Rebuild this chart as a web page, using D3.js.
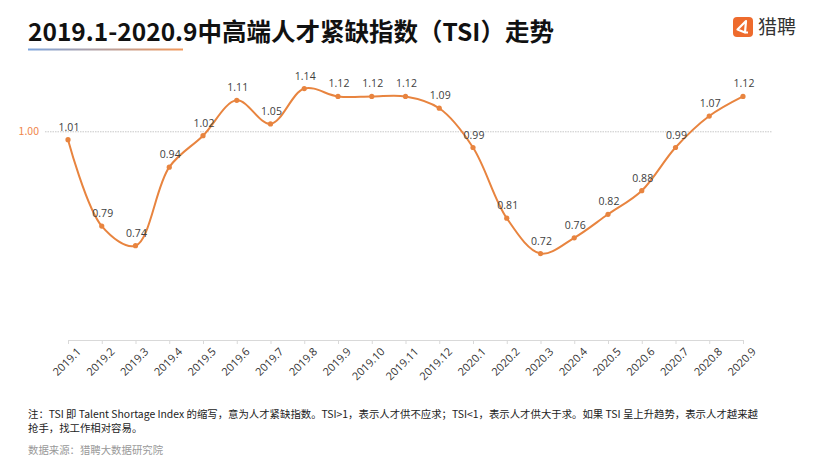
<!DOCTYPE html>
<html><head><meta charset="utf-8">
<script src="https://cdn.jsdelivr.net/npm/d3@7"></script>
<style>
html,body{margin:0;padding:0;background:#fff;}
svg{display:block;font-family:"Noto Sans CJK SC","Noto Sans",sans-serif;}
</style></head>
<body><svg id="c" width="832" height="468"></svg>
<script>
const months = ["2019.1","2019.2","2019.3","2019.4","2019.5","2019.6","2019.7","2019.8","2019.9","2019.10","2019.11","2019.12","2020.1","2020.2","2020.3","2020.4","2020.5","2020.6","2020.7","2020.8","2020.9"];
const tsi = [1.01,0.79,0.74,0.94,1.02,1.11,1.05,1.14,1.12,1.12,1.12,1.09,0.99,0.81,0.72,0.76,0.82,0.88,0.99,1.07,1.12];
const yDomain = [0.5, 1.2];
const refLabel = "1.00";
const refLinePos = 1.03; // where the dotted reference line sits in the picture
const title = "2019.1-2020.9中高端人才紧缺指数（TSI）走势";
const noteLines = ["注：TSI 即 Talent Shortage Index 的缩写，意为人才紧缺指数。TSI>1，表示人才供不应求；TSI<1，表示人才供大于求。如果 TSI 呈上升趋势，表示人才越来越",
                   "抢手，找工作相对容易。"];
const source = "数据来源：猎聘大数据研究院";
const brand = "猎聘";

const svg = d3.select("#c");
const orange = "#E8843F";

// title
svg.append("text").attr("x",28).attr("y",41).attr("font-size",24.5).attr("font-weight",700)
  .attr("fill","#111").text(title);
const grad = svg.append("defs").append("linearGradient").attr("id","ug");
grad.append("stop").attr("offset","0%").attr("stop-color","#7DA5DD");
grad.append("stop").attr("offset","100%").attr("stop-color","#F2985A");
svg.append("rect").attr("x",28).attr("y",48.5).attr("width",155).attr("height",2).attr("fill","url(#ug)");

// logo
const lg = svg.append("g").attr("transform","translate(733,17)");
lg.append("rect").attr("width",20).attr("height",20).attr("rx",4).attr("fill","#EE6B2D");
lg.append("path").attr("d","M13,4 L4.5,12.5 L12,15.5 L13,4 Z M12,15.5 L15,15.5")
  .attr("fill","none").attr("stroke","#fff").attr("stroke-width",2.2).attr("stroke-linejoin","round");
svg.append("text").attr("x",758).attr("y",34).attr("font-size",19).attr("fill","#333").text(brand);

// scales
const x = d3.scalePoint().domain(months).range([68,743]);
const y = d3.scaleLinear().domain(yDomain).range([340,65]);

// reference line
svg.append("line").attr("x1",45).attr("x2",772).attr("y1",y(refLinePos)).attr("y2",y(refLinePos))
  .attr("stroke","#c8c8c8").attr("stroke-width",1).attr("stroke-dasharray","1.5,1");
svg.append("text").attr("x",39).attr("y",y(refLinePos)).attr("dy","0.35em").attr("text-anchor","end")
  .attr("font-size",10.5).attr("fill","#F0864A").text(refLabel);

// x axis
const ax = svg.append("g").attr("transform","translate(0,340)")
  .call(d3.axisBottom(x).tickSizeOuter(0).tickSize(4).tickPadding(4));
ax.select(".domain").attr("stroke","#d9d9d9");
ax.selectAll(".tick line").attr("stroke","#d9d9d9");
ax.selectAll(".tick text").attr("font-size",11).attr("fill","#333")
  .attr("font-family","'Open Sans','Noto Sans',sans-serif")
  .attr("text-anchor","end").attr("transform","translate(3,2) rotate(-45)").attr("dy","0.6em");

// line
const line = d3.line().x((d,i)=>x(months[i])).y(d=>y(d)).curve(d3.curveCatmullRom.alpha(0.5));
svg.append("path").datum(tsi).attr("d",line).attr("fill","none").attr("stroke",orange).attr("stroke-width",2);
svg.selectAll("circle.p").data(tsi).join("circle").attr("class","p")
  .attr("cx",(d,i)=>x(months[i])).attr("cy",d=>y(d)).attr("r",2.6).attr("fill",orange);
svg.selectAll("text.v").data(tsi).join("text").attr("class","v")
  .attr("x",(d,i)=>x(months[i])+1).attr("y",d=>y(d)-9).attr("text-anchor","middle")
  .attr("font-size",10.5).attr("fill","#404040").attr("font-family","'Open Sans','Noto Sans',sans-serif")
  .text(d=>d.toFixed(2));

// notes
noteLines.forEach((t,i)=>{
  svg.append("text").attr("x",28).attr("y",418+i*14).attr("font-size",10.4).attr("fill","#222").text(t);
});
svg.append("text").attr("x",28).attr("y",454).attr("font-size",10.4).attr("fill","#999").text(source);
</script></body></html>
